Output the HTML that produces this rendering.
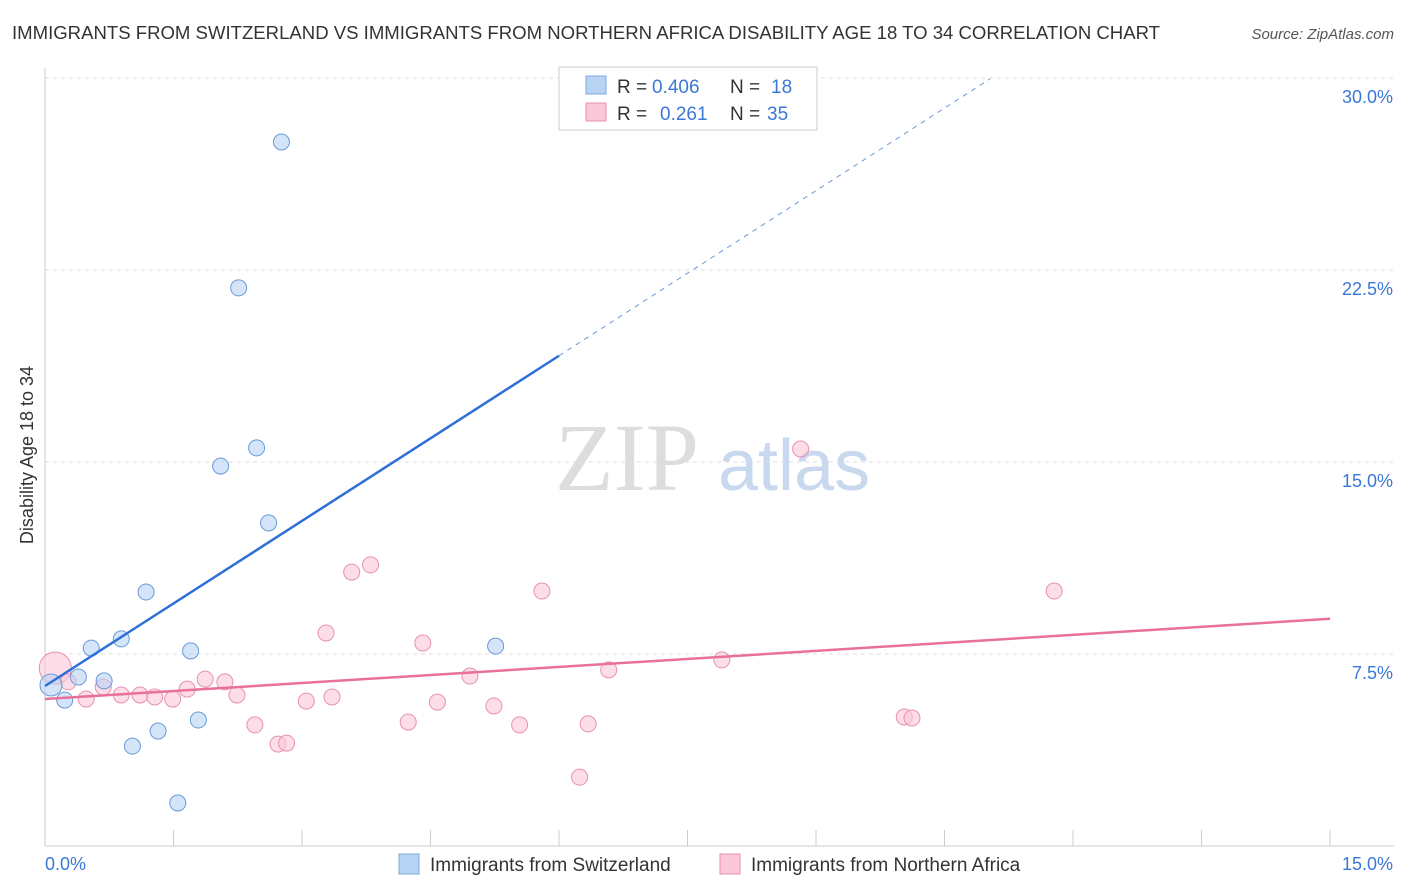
<!DOCTYPE html>
<html><head><meta charset="utf-8">
<style>
body{margin:0;background:#fff;font-family:"Liberation Sans",sans-serif;}
#c{position:relative;width:1406px;height:892px;overflow:hidden;}
</style></head>
<body>
<div id="c">
<svg id="s" width="1406" height="892" xmlns="http://www.w3.org/2000/svg">
<text x="12" y="39" font-size="18" fill="#333" textLength="1148" lengthAdjust="spacingAndGlyphs">IMMIGRANTS FROM SWITZERLAND VS IMMIGRANTS FROM NORTHERN AFRICA DISABILITY AGE 18 TO 34 CORRELATION CHART</text>
<text x="1394" y="39" font-size="15" fill="#555" font-style="italic" text-anchor="end">Source: ZipAtlas.com</text>
<text x="555" y="490" font-size="96" fill="#ddd" font-family="Liberation Serif,serif">ZIP</text>
<text x="718" y="490" font-size="72" fill="#c8d8ee">atlas</text>
<text transform="translate(33,455) rotate(-90)" font-size="18" fill="#333" text-anchor="middle">Disability Age 18 to 34</text>
<g id="grid"></g><g id="marks"></g>
<g>
<rect x="559" y="67" width="258" height="63" fill="#fff" stroke="#ccc"/>
<rect x="586" y="76" width="20" height="18" fill="#b8d4f5" stroke="#7aa8e0"/>
<rect x="586" y="103" width="20" height="18" fill="#fbc8d8" stroke="#e890b0"/>
<text x="617" y="93" font-size="19" fill="#333">R = <tspan x="652" fill="#3a78d8">0.406</tspan></text>
<text x="730" y="93" font-size="19" fill="#333">N = <tspan x="771" fill="#3a78d8">18</tspan></text>
<text x="617" y="120" font-size="19" fill="#333">R = <tspan x="660" fill="#3a78d8">0.261</tspan></text>
<text x="730" y="120" font-size="19" fill="#333">N = <tspan x="767" fill="#3a78d8">35</tspan></text>
</g>
<g>
<rect x="399" y="854" width="20" height="20" fill="#b8d4f5" stroke="#7aa8e0"/>
<text x="430" y="871" font-size="19" fill="#333">Immigrants from Switzerland</text>
<rect x="720" y="854" width="20" height="20" fill="#fbc8d8" stroke="#e890b0"/>
<text x="751" y="871" font-size="19" fill="#333">Immigrants from Northern Africa</text>
</g>
</svg></div>
<script>
const yTicks=[7.5,15,22.5,30];
const yTickLabels=["7.5%","15.0%","22.5%","30.0%"];
const blueX=[2.76,2.26,2.47,2.05,2.61,1.18,0.89,0.54,1.70,5.26,0.39,0.69,0.07,0.23,1.79,1.32,1.02,1.55];
const blueY=[27.5,21.8,15.55,14.84,12.62,9.92,8.09,7.73,7.62,7.81,6.6,6.45,6.29,5.7,4.92,4.49,3.9,1.68];
const pinkX=[0.12,0.27,0.48,0.68,0.89,1.11,1.28,1.49,1.66,1.87,2.10,2.24,2.45,2.72,2.82,3.05,3.35,3.28,3.58,3.80,4.24,4.41,4.58,4.96,5.24,5.54,5.80,6.24,6.34,6.58,7.90,8.82,10.03,10.12,11.78];
const pinkY=[6.95,6.41,5.74,6.21,5.9,5.9,5.82,5.74,6.13,6.52,6.41,5.9,4.73,3.98,4.02,5.66,5.82,8.32,10.7,10.98,4.84,7.93,5.62,6.64,5.47,4.73,9.96,2.69,4.77,6.88,7.27,15.51,5.04,5.0,9.96];
const blueFit=[6.25,2.15], pinkFit=[5.74,0.209];
const X=v=>45+v*85.67, Y=v=>846-v*25.6;
const NS="http://www.w3.org/2000/svg";
function mk(t,a,p){const e=document.createElementNS(NS,t);for(const k in a)e.setAttribute(k,a[k]);p.appendChild(e);return e;}
const g=document.getElementById('grid'), m=document.getElementById('marks');
yTicks.forEach((t,i)=>{
 const l=mk('line',{x1:45,x2:1394,y1:Y(t),y2:Y(t),stroke:'#ddd','stroke-dasharray':'4,4'},g);
 
 
 const tx=mk('text',{x:1393,y:Y(t)+25,'font-size':18,fill:'#3a78d8','text-anchor':'end'},g);
 tx.textContent=yTickLabels[i];
 
 
});
mk('line',{x1:45,x2:45,y1:68,y2:846,stroke:'#ccc'},g);
mk('line',{x1:45,x2:1394,y1:846,y2:846,stroke:'#ccc'},g);
for(let i=0;i<=10;i++){const x=45+i*128.5;const t=mk('line',{x1:x,x2:x,y1:830,y2:846,stroke:'#ccc'},g);
 
 }
const xl=mk('text',{x:45,y:870,'font-size':18,fill:'#3a78d8'},g);xl.textContent='0.0%';


const xr=mk('text',{x:1393,y:870,'font-size':18,fill:'#3a78d8','text-anchor':'end'},g);xr.textContent='15.0%';


function dot(x,y,fill,stroke,name,r){const c=mk('circle',{cx:X(x),cy:Y(y),r:r,fill:fill,stroke:stroke,'fill-opacity':0.6},m);
 
 }
pinkX.forEach((x,i)=>dot(x,pinkY[i],'#fbc8d8','#e890b0','pink-point',i==0?16:8));
blueX.forEach((x,i)=>dot(x,blueY[i],'#b8d4f5','#6a9ad8','blue-point',i==12?11:8));
const bf=x=>blueFit[0]+blueFit[1]*x;
let l1=mk('line',{x1:X(0),y1:Y(bf(0)),x2:X(6.0),y2:Y(bf(6.0)),stroke:'#2e6fd8','stroke-width':2.5},m);


let l2=mk('line',{x1:X(6.0),y1:Y(bf(6.0)),x2:X(11.03),y2:Y(bf(11.03)),stroke:'#6a9ad8','stroke-width':1,'stroke-dasharray':'5,5'},m);


const pf=x=>pinkFit[0]+pinkFit[1]*x;
let l3=mk('line',{x1:X(0),y1:Y(pf(0)),x2:X(15),y2:Y(pf(15)),stroke:'#e8709a','stroke-width':2.5},m);


</script>
</body></html>
